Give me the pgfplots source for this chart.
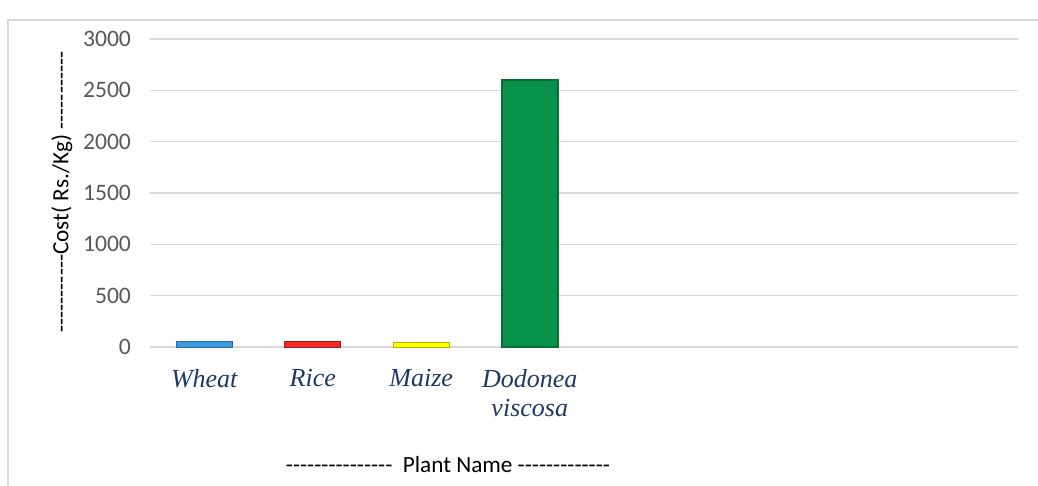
\documentclass[border=0pt]{standalone}
\usepackage{pgfplots}
\pgfplotsset{compat=1.18}
\usepackage{fontspec}
\setmainfont[Ligatures=TeXOff]{Carlito}
\newfontfamily\timesf{Liberation Serif}
\definecolor{tickgray}{HTML}{595959}
\definecolor{gridgray}{HTML}{D9D9D9}
\definecolor{catblue}{HTML}{1F3864}
\definecolor{wheatc}{HTML}{3A9AE0}
\definecolor{ricec}{HTML}{F02828}
\definecolor{maizec}{HTML}{FFFF00}
\definecolor{dodc}{HTML}{08914A}
\begin{document}
\begin{tikzpicture}
\useasboundingbox (0,0) rectangle (519pt,243pt);
\draw[gridgray, line width=0.75pt] (4pt,0) -- (4pt,233pt) -- (519pt,233pt);
\begin{axis}[
  at={(75pt,69.5pt)}, anchor=south west,
  scale only axis, width=434pt, height=154pt,
  ymin=0, ymax=3000, ytick={0,500,...,3000},
  xmin=-0.5, xmax=7.5,
  xtick={0,1,2,3},
  xticklabels={Wheat, Rice, Maize, {Dodonea\\viscosa}},
  xticklabel style={font=\timesf\itshape\fontsize{13}{14.5}\selectfont, text=catblue, align=center, yshift=-7.5pt},
  yticklabel style={font=\fontsize{11.8}{13}\selectfont, text=tickgray, xshift=-6pt},
  /pgf/number format/assume math mode=true,
  /pgf/number format/1000 sep={},
  major tick length=0pt,
  ymajorgrids, grid style={gridgray, line width=0.75pt},
  axis line style={draw=none},
  ybar, bar width=28pt,
  clip=false,
]
\draw[gridgray, line width=1pt] (rel axis cs:0,0) -- (rel axis cs:1,0);
\addplot[bar shift=0pt, fill=wheatc, draw=wheatc!70!black, line width=0.4pt] coordinates {(0,50)};
\addplot[bar shift=0pt, fill=ricec, draw=ricec!70!black, line width=0.4pt] coordinates {(1,50)};
\addplot[bar shift=0pt, fill=maizec, draw=maizec!70!black, line width=0.4pt] coordinates {(2,40)};
\addplot[bar shift=0pt, fill=dodc, draw=dodc!75!black, line width=0.8pt] coordinates {(3,2600)};
\end{axis}
\node[rotate=90, font=\fontsize{11.6}{13}\selectfont] at (31pt,147pt) {-----------Cost( Rs./Kg) -----------};
\node[font=\fontsize{11.6}{13}\selectfont] at (224pt,10.5pt) {---------------\ \ Plant Name -------------};
\end{tikzpicture}
\end{document}
